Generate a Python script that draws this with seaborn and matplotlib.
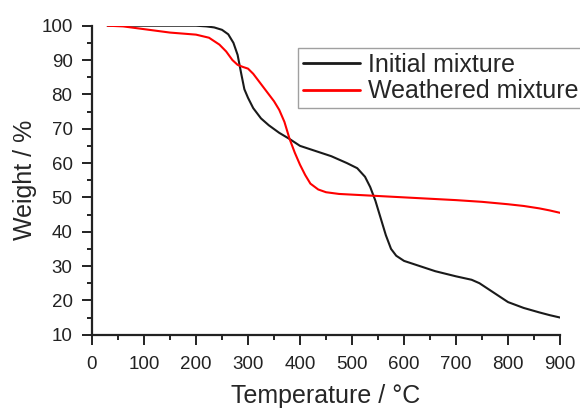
import numpy as np
import pandas as pd
import seaborn as sns
import matplotlib
matplotlib.use("Agg")
import matplotlib.pyplot as plt
from matplotlib.ticker import MultipleLocator

# TGA curves
temp_initial = [30, 100, 150, 200, 220, 235, 250, 262, 272, 280, 287, 293, 300, 310,
                325, 340, 360, 380, 400, 430, 460, 490, 510, 525, 535, 545, 555, 565,
                575, 585, 600, 630, 660, 700, 730, 745, 760, 780, 800, 830, 860, 880, 900]
weight_initial = [100, 100, 100, 100, 99.8, 99.5, 98.8, 97.5, 95, 91.5, 86, 81.5, 79, 76,
                  73, 71, 68.8, 67, 65, 63.5, 62, 60, 58.5, 56, 53, 49, 44, 39,
                  35, 33, 31.5, 30, 28.5, 27, 26, 25, 23.5, 21.5, 19.5, 17.8, 16.5, 15.7, 15]

temp_weathered = [30, 60, 100, 150, 200, 225, 245, 258, 270, 280, 290, 300, 310, 320, 335,
                  350, 360, 370, 380, 390, 400, 410, 420, 435, 450, 475, 500, 550, 600,
                  650, 700, 750, 800, 830, 860, 880, 900]
weight_weathered = [100, 99.8, 99, 98, 97.4, 96.5, 94.5, 92.5, 90, 88.6, 88, 87.5, 86, 84, 81,
                    78, 75.5, 72, 67, 63, 59.5, 56.5, 54, 52.3, 51.5, 51, 50.8, 50.4, 50,
                    49.6, 49.2, 48.7, 48, 47.5, 46.8, 46.2, 45.5]

df = pd.concat([
    pd.DataFrame({"T": temp_initial, "W": weight_initial, "sample": "Initial mixture"}),
    pd.DataFrame({"T": temp_weathered, "W": weight_weathered, "sample": "Weathered mixture"}),
])

sns.set_style("ticks")
plt.rcParams["font.family"] = ["Liberation Sans", "DejaVu Sans"]

fig = plt.figure(figsize=(5.8, 4.12), dpi=100)
ax = fig.add_axes([0.1586, 0.1876, 0.807, 0.75])

sns.lineplot(data=df, x="T", y="W", hue="sample", sort=False,
             palette={"Initial mixture": "#1a1a1a", "Weathered mixture": "#ff0000"},
             linewidth=1.5, ax=ax)

ax.set_xlim(0, 900)
ax.set_ylim(10, 100)
ax.xaxis.set_major_locator(MultipleLocator(100))
ax.xaxis.set_minor_locator(MultipleLocator(50))
ax.yaxis.set_major_locator(MultipleLocator(10))
ax.yaxis.set_minor_locator(MultipleLocator(5))
ax.tick_params(which="major", direction="out", length=7, width=1.4, labelsize=13.5,
               colors="#222222")
ax.tick_params(axis="x", which="major", pad=8)
ax.tick_params(axis="y", which="major", pad=7)
ax.tick_params(which="minor", direction="out", length=3.5, width=1.4, colors="#222222")
for s in ["top", "right"]:
    ax.spines[s].set_visible(False)
for s in ["left", "bottom"]:
    ax.spines[s].set_linewidth(1.6)
    ax.spines[s].set_color("#222222")

ax.set_xlabel("Temperature / °C", fontsize=18, labelpad=8)
ax.set_ylabel("Weight / %", fontsize=18, labelpad=3)

leg = ax.legend(loc="upper left", bbox_to_anchor=(0.44, 0.928), borderaxespad=0,
                fontsize=18, frameon=True, fancybox=False, edgecolor="#888888",
                handlelength=2.3, handletextpad=0.3, labelspacing=0.1, borderpad=0.2)
leg.get_frame().set_linewidth(1.0)
for line in leg.get_lines():
    line.set_linewidth(2.0)

fig.savefig("out.png", dpi=100)
